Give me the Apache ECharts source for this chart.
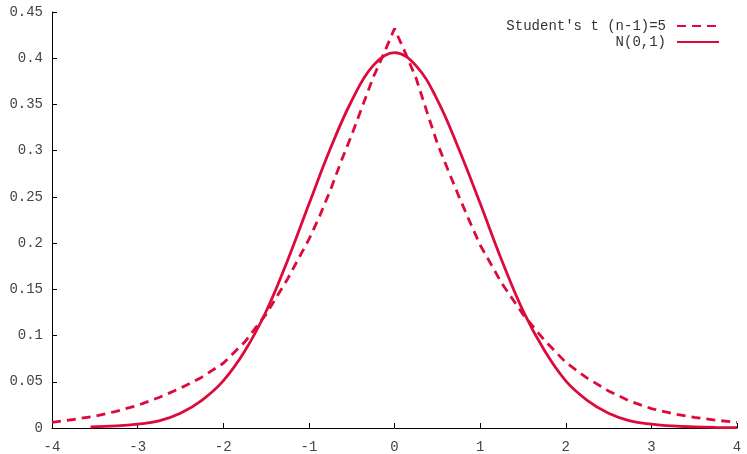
<!DOCTYPE html>
<html>
<head>
<meta charset="utf-8">
<script src="https://cdn.jsdelivr.net/npm/echarts@6/dist/echarts.min.js"></script>
<style>
  html, body { margin: 0; padding: 0; background: #fff; }
  #chart { width: 747px; height: 454px; }
</style>
</head>
<body>
<div id="chart"></div>
<script>
// Student's t (dashed) - x positions and densities
var tX = [-4, -3.75, -3.5, -3.25, -3, -2.75, -2.5, -2.25, -2, -1.75, -1.5, -1.25, -1, -0.875, -0.75, -0.625, -0.5, -0.375, -0.25, -0.125, 0,
          0.125, 0.25, 0.375, 0.5, 0.625, 0.75, 0.875, 1, 1.25, 1.5, 1.75, 2, 2.25, 2.5, 2.75, 3, 3.25, 3.5, 3.75, 4];
var tY = [0.006, 0.0092, 0.0128, 0.018, 0.0245, 0.033, 0.043, 0.055, 0.070, 0.093, 0.123, 0.161, 0.204, 0.229, 0.257, 0.288, 0.317, 0.348, 0.379, 0.405, 0.432,
          0.406, 0.379, 0.343, 0.308, 0.279, 0.251, 0.224, 0.198, 0.157, 0.123, 0.095, 0.071, 0.054, 0.040, 0.029, 0.021, 0.0155, 0.0115, 0.0085, 0.006];

// N(0,1) (solid)
var nX = [-3.55, -3.25, -3, -2.75, -2.5, -2.25, -2, -1.75, -1.5, -1.25, -1, -0.75, -0.5, -0.25, 0,
          0.25, 0.5, 0.75, 1, 1.25, 1.5, 1.75, 2, 2.25, 2.5, 2.75, 3, 3.25, 3.5, 3.75, 4];
var nY = [0.0011, 0.0022, 0.0042, 0.0078, 0.016, 0.030, 0.051, 0.083, 0.126, 0.181, 0.242, 0.302, 0.354, 0.392, 0.406,
          0.392, 0.355, 0.302, 0.243, 0.182, 0.127, 0.084, 0.051, 0.030, 0.016, 0.0078, 0.0042, 0.0022, 0.0012, 0.0006, 0.0003];

var names = ["Student's t (n-1)=5", 'N(0,1)'];

var red = '#dd0a3c';
var mono = 'Liberation Mono';

function pairs(xs, ys) {
    return xs.map(function (x, i) { return [x, ys[i]]; });
}

function legendRow(name, top) {
    return {
        data: [name], right: 27, top: top, orient: 'vertical', align: 'right',
        itemWidth: 42, itemHeight: 14, padding: 0,
        itemStyle: { opacity: 0 },
        textStyle: { fontFamily: mono, fontSize: 14, color: '#333', padding: [0, 6, 0, 0] }
    };
}

var chart = echarts.init(document.getElementById('chart'));

chart.setOption({
    animation: false,
    backgroundColor: '#fff',
    grid: { left: 52, right: 10, top: 12, bottom: 26 },
    legend: [legendRow(names[0], 19), legendRow(names[1], 35)],
    xAxis: {
        type: 'value', min: -4, max: 4, interval: 1,
        splitLine: { show: false },
        axisLine: { onZero: false, lineStyle: { color: '#000', width: 1 } },
        axisTick: { inside: true, length: 5, lineStyle: { color: '#000' } },
        axisLabel: { fontFamily: mono, fontSize: 14, color: '#444', margin: 12 }
    },
    yAxis: {
        type: 'value', min: 0, max: 0.45, interval: 0.05,
        splitLine: { show: false },
        axisLine: { show: true, onZero: false, lineStyle: { color: '#000', width: 1 } },
        axisTick: { show: true, inside: true, length: 5, lineStyle: { color: '#000' } },
        axisLabel: { fontFamily: mono, fontSize: 14, color: '#444', margin: 9 }
    },
    series: [
        {
            name: names[0], type: 'line', symbol: 'none',
            data: pairs(tX, tY),
            lineStyle: { color: red, width: 2.8, type: [9, 6] },
            itemStyle: { color: red }
        },
        {
            name: names[1], type: 'line', symbol: 'none', smooth: 0.4,
            data: pairs(nX, nY),
            lineStyle: { color: red, width: 2.8 },
            itemStyle: { color: red }
        }
    ]
});
</script>
</body>
</html>
